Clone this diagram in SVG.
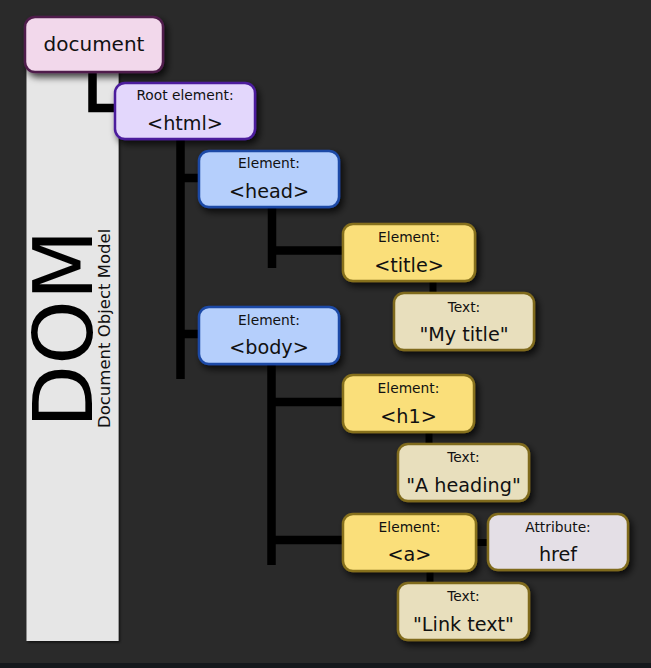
<svg xmlns="http://www.w3.org/2000/svg" width="651" height="668" viewBox="0 0 651 668">
<defs>
<filter id="sh" x="-20%" y="-30%" width="150%" height="170%">
<feDropShadow dx="3" dy="4" stdDeviation="3.5" flood-color="#000" flood-opacity="0.75"/>
</filter>
<filter id="psh" x="-10%" y="-5%" width="125%" height="110%">
<feDropShadow dx="1.5" dy="1.5" stdDeviation="1" flood-color="#000" flood-opacity="0.6"/>
</filter>
</defs>
<style>
text{font-family:"DejaVu Sans","Liberation Sans",sans-serif;fill:#111;text-anchor:middle}
.lbl{font-size:13.8px}
.main{font-size:19.2px}
.box{stroke-width:2.5;filter:url(#sh)}
.doc{fill:#f2d8eb;stroke:#4f1d4b}
.root{fill:#e3d7fc;stroke:#4b1b9c}
.blue{fill:#b5cffc;stroke:#1b49a6}
.yel{fill:#fadf7a;stroke:#86701c}
.txt{fill:#e8dfbd;stroke:#7f6a1c}
.attr{fill:#e4dfe6;stroke:#7f6a1c}
.c{fill:none;stroke:#000;stroke-width:8.5}
.cs{fill:none;stroke:#000;stroke-width:7}
</style>
<rect x="0" y="0" width="651" height="668" fill="#2a2a2a"/>
<rect x="0" y="663" width="651" height="5" fill="#15181c"/>
<g id="panel">
<rect x="26.5" y="62" width="92" height="579" fill="#e6e6e6" filter="url(#psh)"/>
<text transform="translate(92,428) rotate(-90)" style="font-size:82px;text-anchor:start;fill:#000">DOM</text>
<text transform="translate(109.5,428) rotate(-90)" style="font-size:16.5px;text-anchor:start;fill:#111">Document Object Model</text>
</g>
<g id="connectors">
<path class="c" d="M92.5 72 V108 H117"/>
<path class="c" d="M180.5 139 V379 M180.5 178 H200 M180.5 334 H200"/>
<path class="c" d="M272 207 V268 M272 250.5 H344"/>
<path class="cs" d="M433 281 V295"/>
<path class="c" d="M271.5 364 V565 M271.5 402 H344 M271.5 540 H344"/>
<path class="cs" d="M429 432 V446"/>
<path class="cs" d="M476 542.5 H489"/>
<path class="cs" d="M430 571 V585"/>
</g>
<g id="document">
<rect class="box doc" x="25" y="17" width="138" height="55" rx="10"/>
<text class="main" style="font-size:20px" x="94" y="51">document</text>
</g>
<g id="html">
<rect class="box root" x="115" y="83" width="140" height="56" rx="10"/>
<text class="lbl" x="185" y="100">Root element:</text>
<text class="main" x="185" y="129.5">&lt;html&gt;</text>
</g>
<g id="head">
<rect class="box blue" x="199" y="151" width="140" height="56" rx="10"/>
<text class="lbl" x="269" y="168">Element:</text>
<text class="main" x="269" y="197.5">&lt;head&gt;</text>
</g>
<g id="body">
<rect class="box blue" x="199" y="307" width="140" height="57" rx="10"/>
<text class="lbl" x="269" y="324.5">Element:</text>
<text class="main" x="269" y="354">&lt;body&gt;</text>
</g>
<g id="title">
<rect class="box yel" x="343" y="224" width="132" height="57" rx="10"/>
<text class="lbl" x="409" y="242">Element:</text>
<text class="main" x="409" y="271.5">&lt;title&gt;</text>
</g>
<g id="mytitle">
<rect class="box txt" x="394" y="293" width="140" height="57" rx="10"/>
<text class="lbl" x="464" y="311.5">Text:</text>
<text class="main" x="464" y="341">"My title"</text>
</g>
<g id="h1">
<rect class="box yel" x="343" y="375" width="131" height="57" rx="10"/>
<text class="lbl" x="408.5" y="393">Element:</text>
<text class="main" x="408.5" y="422.5">&lt;h1&gt;</text>
</g>
<g id="heading">
<rect class="box txt" x="398" y="444" width="131" height="57" rx="10"/>
<text class="lbl" x="463.5" y="462">Text:</text>
<text class="main" x="463.5" y="491.5">"A heading"</text>
</g>
<g id="a">
<rect class="box yel" x="343" y="514" width="133" height="57" rx="10"/>
<text class="lbl" x="409.5" y="532">Element:</text>
<text class="main" x="409.5" y="561">&lt;a&gt;</text>
</g>
<g id="href">
<rect class="box attr" x="488" y="514" width="140" height="56" rx="10"/>
<text class="lbl" x="558" y="532">Attribute:</text>
<text class="main" x="558" y="561">href</text>
</g>
<g id="linktext">
<rect class="box txt" x="398" y="583" width="131" height="57" rx="10"/>
<text class="lbl" x="463.5" y="601">Text:</text>
<text class="main" x="463.5" y="630.5">"Link text"</text>
</g>
</svg>
